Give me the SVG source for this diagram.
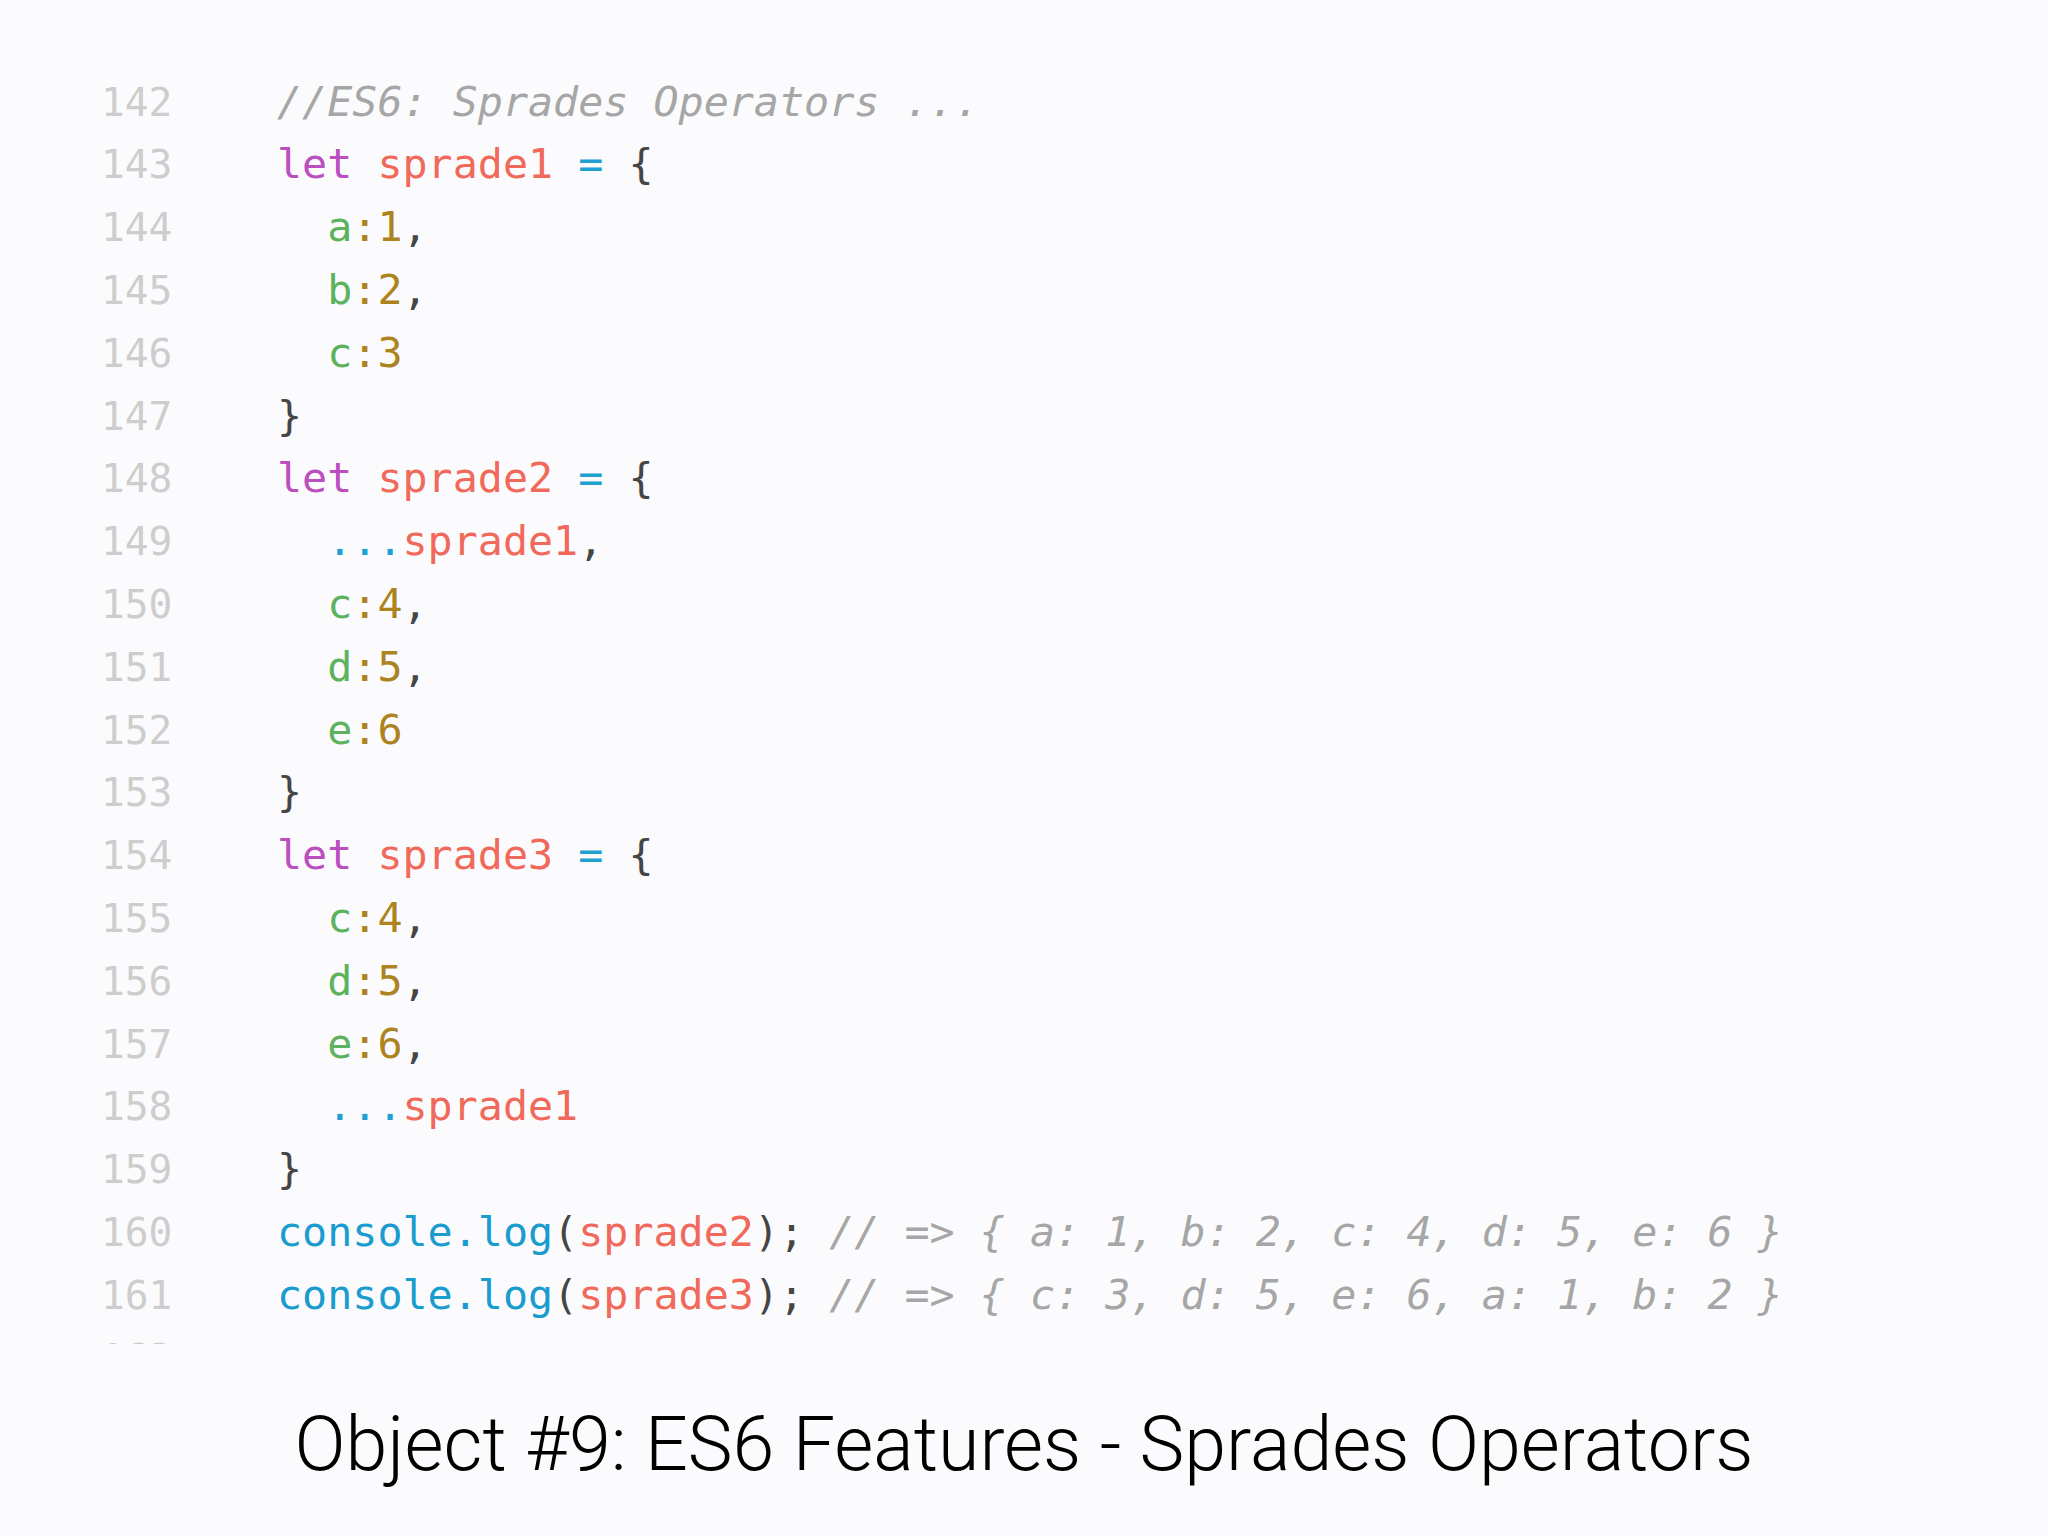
<svg xmlns="http://www.w3.org/2000/svg" width="2048" height="1536" viewBox="0 0 2048 1536">
  <style>
    .ln { font-family: "DejaVu Sans Mono", "Liberation Mono", monospace; font-size: 39.5px; fill: #cdcdcd; }
    .c { font-family: "DejaVu Sans Mono", "Liberation Mono", monospace; font-size: 41.7px; fill: #454545; }
    .kw { fill: #bb4fc0; }
    .var { fill: #f0695a; }
    .op { fill: #1fa0d3; }
    .fn { fill: #1a9ccf; }
    .prop { fill: #5db35d; }
    .num { fill: #ad8320; }
    .pun { fill: #454545; }
    .cm { fill: #a6a6a6; font-style: oblique; }
    .title { font-family: "Roboto", "Liberation Sans", sans-serif; font-weight: 300; font-size: 76px; fill: #000000; }
  </style>
  <defs>
    <clipPath id="codeClip">
      <rect x="0" y="0" width="2048" height="1344"/>
    </clipPath>
  </defs>
  <rect x="0" y="0" width="2048" height="1536" fill="#fbfbfd"/>

  <g id="line-numbers" clip-path="url(#codeClip)">
    <text class="ln" x="101" y="115.5">142</text>
    <text class="ln" x="101" y="178.3">143</text>
    <text class="ln" x="101" y="241.1">144</text>
    <text class="ln" x="101" y="303.9">145</text>
    <text class="ln" x="101" y="366.7">146</text>
    <text class="ln" x="101" y="429.5">147</text>
    <text class="ln" x="101" y="492.3">148</text>
    <text class="ln" x="101" y="555.1">149</text>
    <text class="ln" x="101" y="617.9">150</text>
    <text class="ln" x="101" y="680.7">151</text>
    <text class="ln" x="101" y="743.5">152</text>
    <text class="ln" x="101" y="806.3">153</text>
    <text class="ln" x="101" y="869.1">154</text>
    <text class="ln" x="101" y="931.9">155</text>
    <text class="ln" x="101" y="994.7">156</text>
    <text class="ln" x="101" y="1057.5">157</text>
    <text class="ln" x="101" y="1120.3">158</text>
    <text class="ln" x="101" y="1183.1">159</text>
    <text class="ln" x="101" y="1245.9">160</text>
    <text class="ln" x="101" y="1308.7">161</text>
    <text class="ln" x="101" y="1371.5">162</text>
  </g>

  <g id="code">
    <text class="c" x="277" y="115.5"><tspan class="cm">//ES6: Sprades Operators ...</tspan></text>
    <text class="c" x="277" y="178.3"><tspan class="kw">let</tspan> <tspan class="var">sprade1</tspan> <tspan class="op">=</tspan> <tspan class="pun">{</tspan></text>
    <text class="c" x="327.2" y="241.1"><tspan class="prop">a</tspan><tspan class="num">:1</tspan><tspan class="pun">,</tspan></text>
    <text class="c" x="327.2" y="303.9"><tspan class="prop">b</tspan><tspan class="num">:2</tspan><tspan class="pun">,</tspan></text>
    <text class="c" x="327.2" y="366.7"><tspan class="prop">c</tspan><tspan class="num">:3</tspan></text>
    <text class="c" x="277" y="429.5"><tspan class="pun">}</tspan></text>
    <text class="c" x="277" y="492.3"><tspan class="kw">let</tspan> <tspan class="var">sprade2</tspan> <tspan class="op">=</tspan> <tspan class="pun">{</tspan></text>
    <text class="c" x="327.2" y="555.1"><tspan class="op">...</tspan><tspan class="var">sprade1</tspan><tspan class="pun">,</tspan></text>
    <text class="c" x="327.2" y="617.9"><tspan class="prop">c</tspan><tspan class="num">:4</tspan><tspan class="pun">,</tspan></text>
    <text class="c" x="327.2" y="680.7"><tspan class="prop">d</tspan><tspan class="num">:5</tspan><tspan class="pun">,</tspan></text>
    <text class="c" x="327.2" y="743.5"><tspan class="prop">e</tspan><tspan class="num">:6</tspan></text>
    <text class="c" x="277" y="806.3"><tspan class="pun">}</tspan></text>
    <text class="c" x="277" y="869.1"><tspan class="kw">let</tspan> <tspan class="var">sprade3</tspan> <tspan class="op">=</tspan> <tspan class="pun">{</tspan></text>
    <text class="c" x="327.2" y="931.9"><tspan class="prop">c</tspan><tspan class="num">:4</tspan><tspan class="pun">,</tspan></text>
    <text class="c" x="327.2" y="994.7"><tspan class="prop">d</tspan><tspan class="num">:5</tspan><tspan class="pun">,</tspan></text>
    <text class="c" x="327.2" y="1057.5"><tspan class="prop">e</tspan><tspan class="num">:6</tspan><tspan class="pun">,</tspan></text>
    <text class="c" x="327.2" y="1120.3"><tspan class="op">...</tspan><tspan class="var">sprade1</tspan></text>
    <text class="c" x="277" y="1183.1"><tspan class="pun">}</tspan></text>
    <text class="c" x="277" y="1245.9"><tspan class="fn">console.log</tspan><tspan class="pun">(</tspan><tspan class="var">sprade2</tspan><tspan class="pun">);</tspan> <tspan class="cm">// =&gt; { a: 1, b: 2, c: 4, d: 5, e: 6 }</tspan></text>
    <text class="c" x="277" y="1308.7"><tspan class="fn">console.log</tspan><tspan class="pun">(</tspan><tspan class="var">sprade3</tspan><tspan class="pun">);</tspan> <tspan class="cm">// =&gt; { c: 3, d: 5, e: 6, a: 1, b: 2 }</tspan></text>
  </g>

  <g id="title">
    <text class="title" x="1024" y="1470" text-anchor="middle" textLength="1459" lengthAdjust="spacingAndGlyphs">Object #9: ES6 Features - Sprades Operators</text>
  </g>
</svg>
